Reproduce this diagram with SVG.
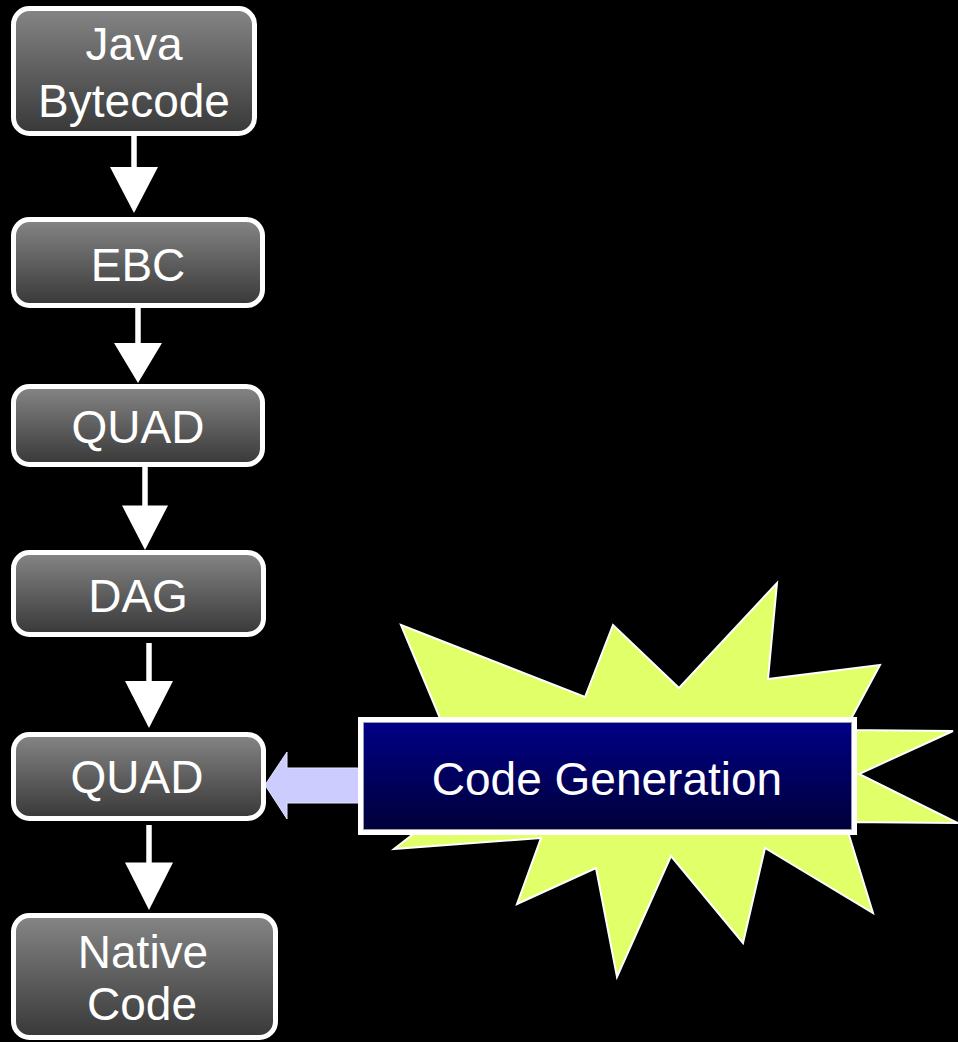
<svg xmlns="http://www.w3.org/2000/svg" width="958" height="1042" viewBox="0 0 958 1042">
  <defs>
    <linearGradient id="gray" x1="0" y1="0" x2="0" y2="1">
      <stop offset="0" stop-color="#858585"/>
      <stop offset="1" stop-color="#383838"/>
    </linearGradient>
    <linearGradient id="navy" x1="0" y1="0" x2="0" y2="1">
      <stop offset="0" stop-color="#000088"/>
      <stop offset="1" stop-color="#000038"/>
    </linearGradient>
    <style>
      .node rect { fill: url(#gray); stroke: #ffffff; stroke-width: 5; }
      .lbl { font-size: 46px; fill: #ffffff; text-anchor: middle; }
      .shaft { stroke: #ffffff; stroke-width: 5.5; fill: none; }
      .head { fill: #ffffff; }
    </style>
  </defs>
  <rect x="0" y="0" width="958" height="1042" fill="#000000"/>

  <g id="burst">
    <polygon points="401,625 585,697 613,625 679,688 777,583 768,679 880,665 845,730 953,731 859,774 958,823 845,822 873,913 765,848 743,943 671,856 617,977 596,868 517,904 541,838 394,849 470,790" fill="#e0ff68" stroke="#ffffff" stroke-width="2" stroke-linejoin="miter"/>
  </g>

  <g id="connectors">
    <line class="shaft" x1="134" y1="130" x2="134" y2="170"/>
    <polygon class="head" points="110,167 158,167 134,213"/>
    <line class="shaft" x1="138" y1="306" x2="138" y2="346"/>
    <polygon class="head" points="114,343 162,343 138,383"/>
    <line class="shaft" x1="145" y1="465" x2="145" y2="508"/>
    <polygon class="head" points="122,505.5 168,505.5 145,550"/>
    <line class="shaft" x1="149" y1="643" x2="149" y2="684"/>
    <polygon class="head" points="125,681 173,681 149,728"/>
    <line class="shaft" x1="149" y1="825" x2="149" y2="865"/>
    <polygon class="head" points="125,862.5 173,862.5 149,910"/>
    <polygon id="gen-arrow" points="360,768 287,768 287,752 265,785 287,819 287,803 360,803" fill="#ccccff" stroke="#e6e6ff" stroke-width="1"/>
  </g>

  <g id="codegen">
    <rect x="360.5" y="719.5" width="494" height="113" fill="url(#navy)" stroke="#ffffff" stroke-width="5"/>
    <rect x="363.5" y="722.5" width="488" height="107" fill="none" stroke="#9a9ab0" stroke-width="1"/>
    <text class="lbl" x="607" y="795" font-family="Liberation Sans, sans-serif" font-size="48">Code Generation</text>
  </g>

  <g id="n1" class="node" font-family="Liberation Sans, sans-serif">
    <rect x="13.5" y="8.5" width="241" height="125" rx="16" ry="16"/>
    <text class="lbl" x="134" y="60">Java</text>
    <text class="lbl" x="134" y="117">Bytecode</text>
  </g>
  <g id="n2" class="node" font-family="Liberation Sans, sans-serif">
    <rect x="13.5" y="219.5" width="249" height="86" rx="16" ry="16"/>
    <text class="lbl" x="138" y="281">EBC</text>
  </g>
  <g id="n3" class="node" font-family="Liberation Sans, sans-serif">
    <rect x="13.5" y="386.5" width="249" height="78" rx="16" ry="16"/>
    <text class="lbl" x="138" y="443">QUAD</text>
  </g>
  <g id="n4" class="node" font-family="Liberation Sans, sans-serif">
    <rect x="13.5" y="552.5" width="250" height="82" rx="16" ry="16"/>
    <text class="lbl" x="138" y="612">DAG</text>
  </g>
  <g id="n5" class="node" font-family="Liberation Sans, sans-serif">
    <rect x="13.5" y="734.5" width="250" height="84" rx="16" ry="16"/>
    <text class="lbl" x="137" y="793">QUAD</text>
  </g>
  <g id="n6" class="node" font-family="Liberation Sans, sans-serif">
    <rect x="13.5" y="915.5" width="262" height="122" rx="16" ry="16"/>
    <text class="lbl" x="143" y="968">Native</text>
    <text class="lbl" x="142" y="1020">Code</text>
  </g>
</svg>
